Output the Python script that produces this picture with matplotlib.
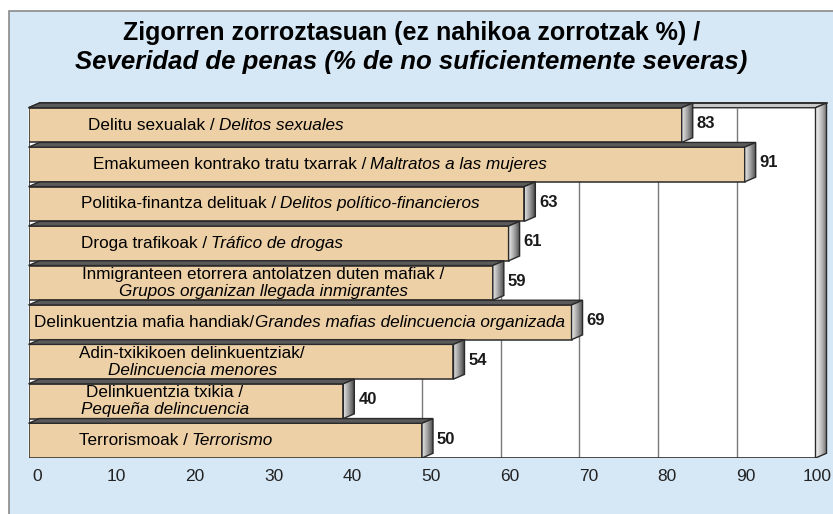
import matplotlib
matplotlib.use("Agg")
import matplotlib.pyplot as plt
import numpy as np
from matplotlib.patches import Polygon, Rectangle
from matplotlib.transforms import ScaledTranslation
from matplotlib.colors import LinearSegmentedColormap

plt.rcParams['font.family'] = ['Liberation Sans', 'DejaVu Sans']

# data (top to bottom)
labels_eu = ['Delitu sexualak /', 'Emakumeen kontrako tratu txarrak /',
             'Politika-finantza delituak /', 'Droga trafikoak /',
             'Inmigranteen etorrera antolatzen duten mafiak /',
             'Delinkuentzia mafia handiak/', 'Adin-txikikoen delinkuentziak/',
             'Delinkuentzia txikia /', 'Terrorismoak /']
labels_es = ['Delitos sexuales', 'Maltratos a las mujeres',
             'Delitos político-financieros', 'Tráfico de drogas',
             'Grupos organizan llegada inmigrantes',
             'Grandes mafias delincuencia organizada', 'Delincuencia menores',
             'Pequeña delincuencia', 'Terrorismo']
two_lines = [False, False, False, False, True, False, True, True, False]
values = [83, 91, 63, 61, 59, 69, 54, 40, 50]
ticks = [0, 10, 20, 30, 40, 50, 60, 70, 80, 90, 100]

title1 = 'Zigorren zorroztasuan (ez nahikoa zorrotzak %) /'
title2 = 'Severidad de penas (% de no suficientemente severas)'

# layout: where each label is centred (x units)
label_x = [23.8, 37.0, 32.0, 23.3, 29.8, 34.4, 20.8, 17.3, 18.7]

bar_color = '#EDD0A6'
edge = '#2a2a2a'
dx, dy = 1.4, 0.12   # 3d depth
xmax = 100 + dx + 0.6
px_per_unit = 787 / 100

fig = plt.figure(figsize=(8.33, 5.14), dpi=100)
bg = Rectangle((9 / 833, -0.01), 1.0, (514 - 11) / 514 + 0.01,
               transform=fig.transFigure, facecolor='#D6E7F5',
               edgecolor='#8a8a8a', lw=1.2, zorder=-5)
fig.patches.append(bg)

fig.text(0.494, (514 - 33) / 514, title1, ha='center', va='center',
         fontsize=18, fontweight='bold')
fig.text(0.494, (514 - 62) / 514, title2, ha='center', va='center',
         fontsize=18.5, fontweight='bold', style='italic')

ax = fig.add_axes([28.5 / 833, (514 - 458) / 514, xmax * px_per_unit / 833, 355 / 514])
ax.patch.set_visible(False)
for s in ax.spines.values():
    s.set_visible(False)
ax.set_yticks([])
ax.set_xticks(ticks)
ax.set_xticklabels([str(t) for t in ticks], fontsize=12.5, color='#222222')
ax.tick_params(axis='x', length=0, pad=8)
tick_labels = ax.get_xticklabels()
for k, lab in enumerate(tick_labels):
    shift = 0.02 if k == len(tick_labels) - 1 else 0.09
    lab.set_transform(lab.get_transform() + ScaledTranslation(shift, 0, fig.dpi_scale_trans))

top, bot = -0.5, len(values) - 0.5

# back wall
ax.add_patch(Polygon([(0, bot), (0, top + dy), (dx, top), (100 + dx, top),
                      (100 + dx, bot - dy), (100, bot)], closed=True,
                     facecolor='white', edgecolor='none', zorder=0, clip_on=False))
# ceiling strip
ax.add_patch(Polygon([(0, top + dy), (dx, top), (100 + dx, top), (100, top + dy)],
                     closed=True, facecolor='#c8c8c8', edgecolor=edge, lw=1,
                     zorder=0.5, clip_on=False))

for t in ticks[1:-1]:
    ax.plot([t, t], [top + dy, bot], color='#7a7a7a', lw=1, zorder=1)

side_cmap = LinearSegmentedColormap.from_list('side', ['#e6e6e6', '#9a9a9a', '#3c3c3c'])
wall_cmap = LinearSegmentedColormap.from_list('wall', ['#f4f4f4', '#b8b8b8', '#5e5e5e'])
grad = np.linspace(0, 1, 64).reshape(1, -1)

# right wall
wall = Polygon([(100, top + dy), (100 + dx, top), (100 + dx, bot - dy), (100, bot)],
               closed=True, facecolor='none', edgecolor=edge, lw=1, zorder=2)
ax.add_patch(wall)
im = ax.imshow(grad, cmap=wall_cmap, aspect='auto', extent=[100, 100 + dx, bot, top],
               zorder=1.9)
im.set_clip_path(wall)

# walls edges
ax.plot([0, 0], [top + dy, bot], color=edge, lw=1.2, zorder=2)
ax.plot([0, 100], [bot, bot], color=edge, lw=1.2, zorder=2)
ax.plot([dx, 100 + dx], [top, top], color=edge, lw=1.2, zorder=2, clip_on=False)

# bars
for i, v in enumerate(values):
    y0, y1 = i - 0.5, i + 0.5
    ax.add_patch(Rectangle((0, y0 + dy), v, 1 - dy, facecolor=bar_color,
                           edgecolor=edge, lw=1.1, zorder=4))
    ax.add_patch(Polygon([(0, y0 + dy), (v, y0 + dy), (v + dx, y0), (dx, y0)],
                         closed=True, facecolor='#5a5a5a', edgecolor=edge,
                         lw=1, zorder=4, clip_on=False))
    side = Polygon([(v, y0 + dy), (v + dx, y0), (v + dx, y1 - dy), (v, y1)],
                   closed=True, facecolor='none', edgecolor=edge, lw=1, zorder=4.2)
    ax.add_patch(side)
    sim = ax.imshow(grad, cmap=side_cmap, aspect='auto', extent=[v, v + dx, y1, y0],
                    zorder=4.1)
    sim.set_clip_path(side)
    ax.text(v + dx + 0.5, i + 0.02, str(v), ha='left', va='center',
            fontsize=12, fontweight='bold', color='#1a1a1a', zorder=5)

ax.set_xlim(0, xmax)
ax.set_ylim(8.5, -0.5)

# category labels (regular basque part + italic spanish part)
renderer = fig.canvas.get_renderer()
fs = 12.3
for i, (eu, es) in enumerate(zip(labels_eu, labels_es)):
    yc = i + dy / 2
    if two_lines[i]:
        ax.text(label_x[i], yc - 0.21, eu, ha='center', va='center', fontsize=fs, zorder=6)
        ax.text(label_x[i], yc + 0.22, es, ha='center', va='center', fontsize=fs,
                style='italic', zorder=6)
    else:
        t1 = ax.text(label_x[i], yc, eu, ha='left', va='center', fontsize=fs, zorder=6)
        t2 = ax.text(label_x[i], yc, es, ha='left', va='center', fontsize=fs,
                     style='italic', zorder=6)
        w1 = t1.get_window_extent(renderer).width
        w2 = t2.get_window_extent(renderer).width
        gap = 1 if eu.endswith('k/') else 4
        total = w1 + gap + w2
        t1.set_transform(ax.transData + ScaledTranslation(-total / 2 / fig.dpi, 0, fig.dpi_scale_trans))
        t2.set_transform(ax.transData + ScaledTranslation((-total / 2 + w1 + gap) / fig.dpi, 0,
                                                          fig.dpi_scale_trans))

fig.savefig('out.png', dpi=100, facecolor='white')
